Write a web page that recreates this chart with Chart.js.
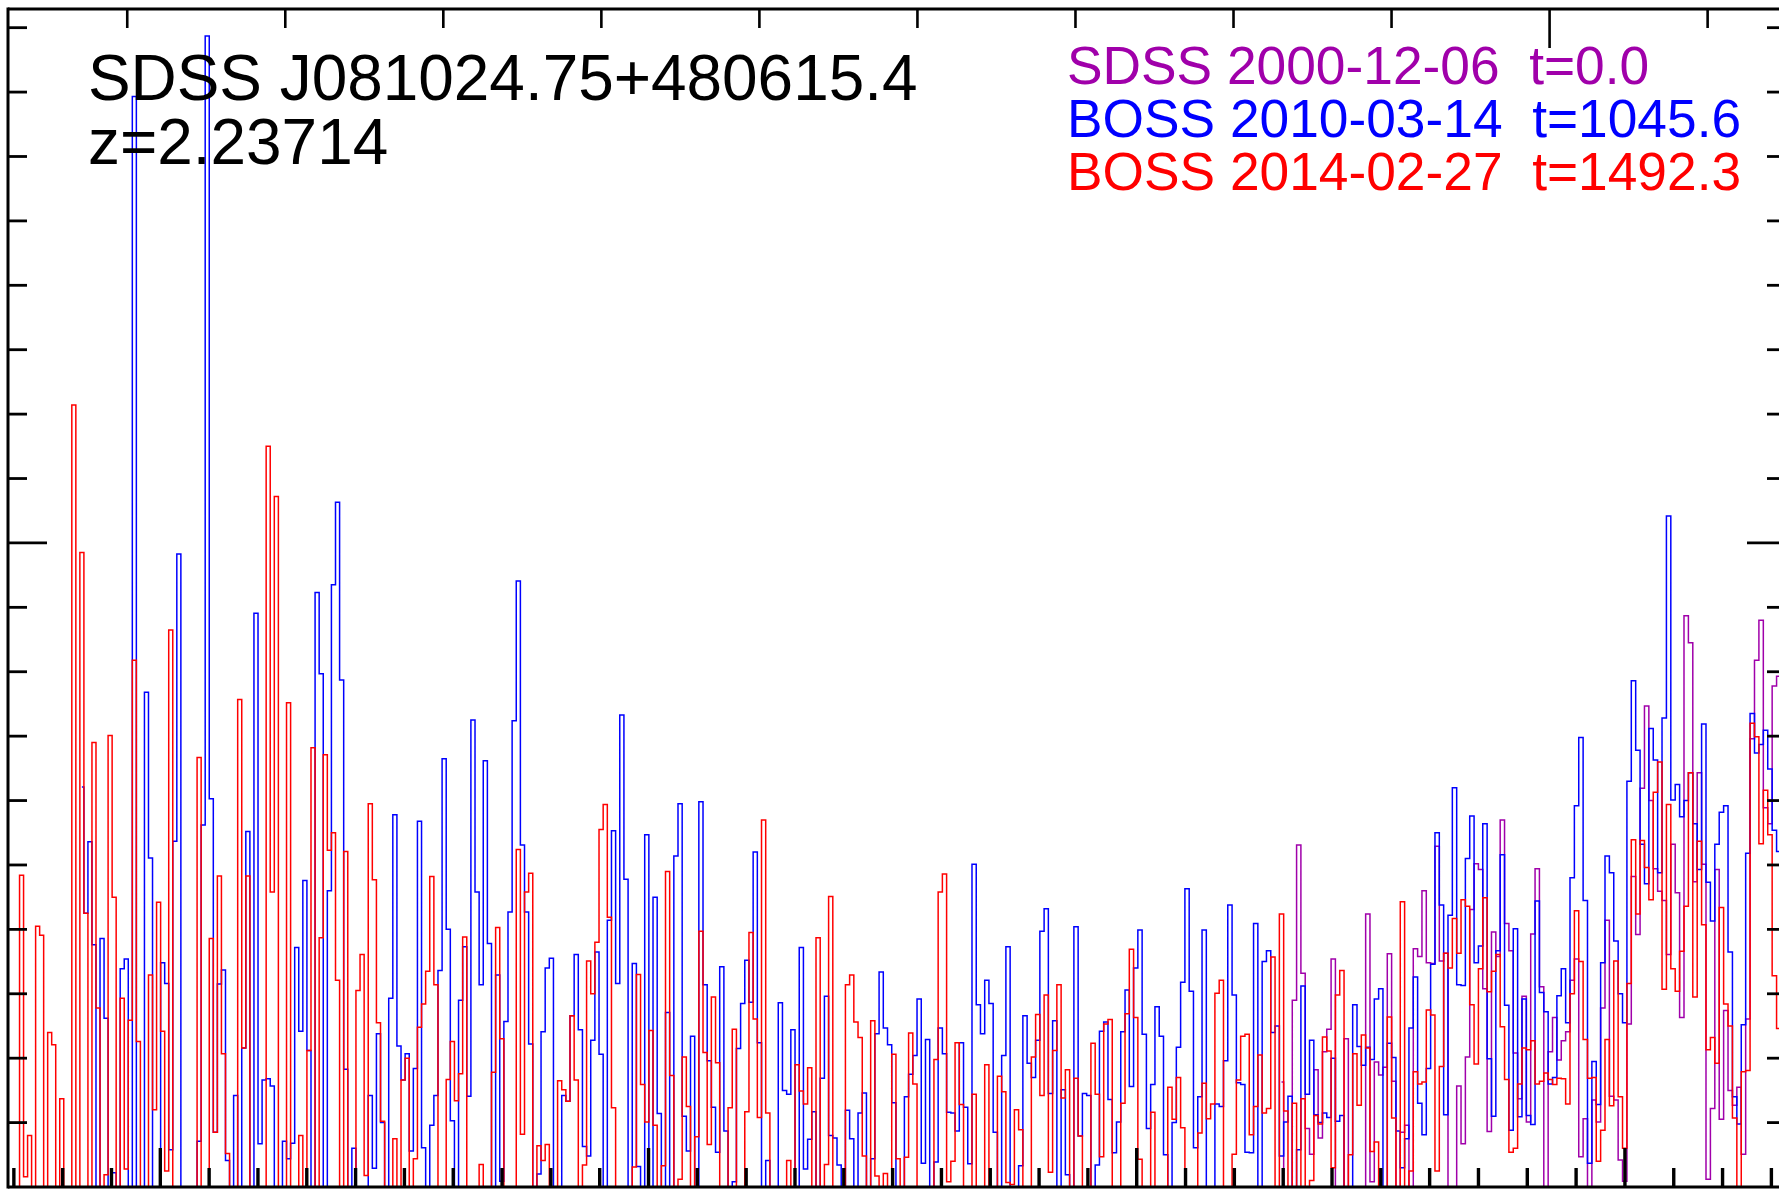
<!DOCTYPE html>
<html>
<head>
<meta charset="utf-8">
<title>SDSS J081024.75+480615.4</title>
<script src="https://cdn.jsdelivr.net/npm/chart.js@4"></script>
<style>
    html, body { margin: 0; padding: 0; background: #fff; }
    canvas { display: block; }
</style>
</head>
<body>
<canvas id="spectrum" width="1779" height="1192"></canvas>
<script>
// Flux below zero runs off the bottom of the frame
const low = -0.05;

// Spectrum pixels are log-spaced: one value per 1e-4 in log10(wavelength)
const logLambdaStart = 3.55276;
const logLambdaStep = 0.0001;
const redshift = 2.23714;

// BOSS 2014-02-27
const fluxRed = [low,
    .484,.016,.080,low,.405,.391,low,.240,.221,low,
    .137,low,low,1.214,low,.985,.425,low,.690,.278,
    low,.019,.701,.450,low,.293,.028,.259,.818,.226,
    low,low,.329,.120,.442,.242,.025,.865,low,low,
    low,low,low,low,.667,low,low,.386,.085,.483,
    .207,.052,low,low,.757,.216,.483,low,low,low,
    low,1.150,.458,1.072,low,low,.752,low,low,.080,
    low,.212,.682,low,.387,.671,.523,.550,.321,low,
    .521,low,low,.305,.361,.018,.595,.477,.255,.102,
    low,low,.075,low,.166,.200,low,.044,.248,.284,
    .335,.482,.314,low,low,.167,.226,.134,.176,.388,
    low,low,low,.035,low,low,.178,.403,.230,low,
    low,low,.524,.082,.458,.487,low,.064,.041,.066,
    low,low,.165,.151,.133,.266,.166,low,.034,.351,
    .300,.380,.555,.594,.419,.123,low,low,low,low,
    .031,.330,.159,.101,.243,.096,low,.033,.490,.173,
    low,.012,.202,.125,low,.078,.397,.209,.066,.295,
    .193,low,low,.123,.245,low,low,.117,.395,.261,
    .108,.570,.115,low,low,low,low,.041,low,.190,
    .149,.129,.185,low,.387,low,.035,.451,low,low,
    low,.314,.329,.256,.232,.048,low,.258,.017,low,
    .021,low,.206,.044,low,.046,.239,.160,low,low,
    low,low,.198,.458,.486,.008,.040,.224,.128,low,
    low,.144,low,low,.190,low,low,.172,.148,.007,
    .004,.120,.089,low,low,.202,.268,.142,.298,.023,
    .212,.314,.138,.182,low,.169,.079,low,low,.223,
    .144,.047,.253,.260,low,low,.130,.269,.369,.263,
    .043,low,low,.116,low,low,low,.155,.105,.170,
    .092,low,low,low,.084,.161,.106,.129,.301,.321,
    low,low,.051,.166,.234,.237,.081,.125,.205,.115,
    .122,.357,low,.424,.118,low,.130,low,.137,low,
    .010,.111,.098,.233,.211,.030,.298,.336,low,.050,
    .207,.127,.236,.216,.055,.070,low,low,.264,.107,
    low,.443,low,.025,.179,.160,.163,.275,.267,.025,
    .187,.363,.340,.417,.363,.446,.436,.283,.191,.339,
    .449,.303,.335,.361,.249,.167,.054,.060,.160,.216,
    .213,.227,.160,.164,.177,.167,.159,.169,.168,.129,
    .300,.429,.350,.229,.169,.170,.040,.088,.229,.126,
    .351,.140,.060,.316,.539,.424,.538,.496,.446,.613,
    .660,.307,.594,.339,.304,.366,.436,.643,.295,.537,
    .407,.213,.232,.192,.434,.284,.250,.107,low,.179,
    .181,.720,.699,.533,.616,.547,.328,.246,.246
];

// BOSS 2010-03-14, begins 16 pixels after the red one
const blueOffset = 16;
const fluxBlue = [
    .621,.425,.536,.376,low,
    .386,.262,low,.022,low,.339,.354,low,1.693,low,
    low,.768,.511,low,low,.348,.316,.058,.537,.983,
    low,low,low,low,.071,.562,1.787,.603,.085,.315,
    .337,.041,low,.142,low,.216,.552,low,.891,.067,
    .166,.168,.157,low,low,.071,.044,.068,.372,.242,
    .476,.212,low,.923,.797,low,.460,.935,1.063,.787,
    .183,low,.060,low,low,low,.142,.029,.238,.100,
    low,.293,.578,.219,.166,.207,.056,.184,.568,.061,
    low,.096,.142,.336,.665,.400,.103,low,.290,.373,
    .141,.725,.458,.314,.662,.378,low,.329,.009,.257,
    .427,.724,.941,.531,.427,.222,low,.020,.241,.340,
    .355,low,low,.142,.133,.266,.361,.244,.063,.048,
    .228,.365,.206,low,.414,.553,.316,.733,.478,low,
    .347,.032,low,.547,low,.450,.114,low,.271,low,
    .514,.595,.110,.056,.234,low,.598,.314,.196,.124,
    .054,.342,.087,low,.008,.215,.285,.352,.287,.520,
    .224,low,.041,low,low,.286,.150,.144,.244,low,
    .372,.028,.074,.117,low,.169,.296,.080,.076,.034,
    low,.119,.075,low,.115,.146,low,.044,.238,.334,
    .247,.221,.131,low,low,.140,.175,.204,.292,.037,
    .229,low,.039,.247,.207,.116,.115,.087,.224,.124,
    .036,.501,.283,.238,.321,.285,.085,low,.204,.373,
    low,low,.033,.266,.192,.170,.228,.397,.432,.145,
    .258,low,.151,.019,low,.404,.079,.145,.142,low,
    .034,.242,.256,.136,.053,.101,.241,.306,.156,.340,
    .399,.237,.091,.159,.280,.234,.050,low,.100,.217,
    .318,.463,.304,.061,.140,.399,low,low,.129,.125,
    .196,.438,.298,.162,.159,.054,.053,.409,low,.350,
    .367,.240,.250,.048,.101,.141,low,.058,.312,.144,
    .228,.112,.100,.115,.108,.200,.102,.111,low,low,
    .283,.218,.189,.217,.198,.292,.308,low,.223,.201,
    .087,.030,.075,.247,.326,.130,.081,.184,.346,.550,
    .438,.112,.422,.620,.314,.313,.510,.576,.348,.374,
    .564,.199,.110,.367,.516,.282,.088,.401,.109,.292,
    .111,.097,.444,.302,.272,.160,.170,.297,.339,.255,
    .480,.592,.698,.445,.037,.195,.128,.348,.514,.488,
    .382,.300,.255,.630,.786,.678,.532,.471,.712,.663,
    .488,.728,1.042,.601,.625,.575,.600,.643,.564,.493,
    .719,.473,.413,.532,.582,.592,.365,.140,.098,.252,
    .518,.735,.674,.687,.709,.649,.554,.521,.521
];

// SDSS 2000-12-06, only reaches the red end of the frame
const purpleOffset = 304;
const fluxPurple = [
    .163,low,low,.290,.531,.332,.091,
    .051,.182,.076,.210,.245,.354,low,low,.230,low,
    low,low,low,.424,.008,.194,.174,.186,.362,.164,
    low,.085,.096,low,.370,.358,.460,.348,.347,.529,
    .351,.363,low,low,.157,.067,.202,.431,.502,.493,
    .308,.086,.396,.358,.570,.409,.367,.208,.137,.296,
    .101,.393,.494,.311,low,.210,.263,.197,.227,.241,
    .321,.354,.047,.106,low,.135,.101,.278,.414,.141,
    .135,.042,.009,.253,.482,.392,.619,.747,.600,.494,
    .459,.445,.361,.532,.457,.263,.887,.845,.474,.643,
    .501,.012,.122,.493,.105,.274,.150,.127,.155,.051,
    .261,.696,.818,.88,.589,.564,.778,.793,.793
];

// Axis ranges and ticks. Bottom axis is observed wavelength, top axis rest wavelength.
const wavelengthMin = 3568.8;
const wavelengthMax = 3931.56;
const fluxMax = 1.829;
const bottomTicks = [3570, 3580, 3590, 3600, 3610, 3620, 3630, 3640, 3650, 3660, 3670, 3680, 3690, 3700,
    3710, 3720, 3730, 3740, 3750, 3760, 3770, 3780, 3790, 3800, 3810, 3820, 3830, 3840, 3850, 3860,
    3870, 3880, 3890, 3900, 3910, 3920, 3930];
const bottomMajorTicks = [3600, 3700, 3800, 3900];
const topTicks = [1110, 1120, 1130, 1140, 1150, 1160, 1170, 1180, 1190, 1200, 1210];
const topMajorTicks = [1200];
const fluxTicks = [0.1, 0.2, 0.3, 0.4, 0.5, 0.6, 0.7, 0.8, 0.9, 1.0, 1.1, 1.2, 1.3, 1.4, 1.5, 1.6, 1.7, 1.8];
const fluxMajorTicks = [1.0];

// Labels
const titleLines = ['SDSS J081024.75+480615.4', 'z=2.23714'];
const epochLabels = ['SDSS 2000-12-06  t=0.0', 'BOSS 2010-03-14  t=1045.6', 'BOSS 2014-02-27  t=1492.3'];
const epochColors = ['rgb(160,0,170)', 'rgb(0,0,255)', 'rgb(255,0,0)'];

const wavelengths = fluxRed.map((_, i) => Math.pow(10, logLambdaStart + i * logLambdaStep));

function toPoints(flux, offset) {
    return flux.map((y, i) => ({ x: wavelengths[i + offset], y: y }));
}

function stepDataset(label, flux, offset, color, order) {
    return {
        label: label,
        data: toPoints(flux, offset),
        borderColor: color,
        borderWidth: 1.5,
        pointRadius: 0,
        stepped: 'middle',
        fill: false,
        order: order
    };
}

// Frame, inward ticks and the text labels
const framePlugin = {
    id: 'frame',
    afterDatasetsDraw(chart) {
        const ctx = chart.ctx;
        const { left, right, top, bottom } = chart.chartArea;
        const { x, y } = chart.scales;

        ctx.save();
        ctx.strokeStyle = '#000';
        ctx.lineCap = 'butt';

        function segment(x1, y1, x2, y2, width) {
            ctx.lineWidth = width;
            ctx.beginPath();
            ctx.moveTo(x1, y1);
            ctx.lineTo(x2, y2);
            ctx.stroke();
        }

        bottomTicks.forEach(t => {
            const px = x.getPixelForValue(t);
            const len = bottomMajorTicks.includes(t) ? 39 : 19;
            segment(px, bottom, px, bottom - len, 3.4);
        });
        topTicks.forEach(t => {
            const px = x.getPixelForValue(t * (1 + redshift));
            const len = topMajorTicks.includes(t) ? 39 : 19;
            segment(px, top, px, top + len, 2.6);
        });
        fluxTicks.forEach(t => {
            const py = y.getPixelForValue(t);
            const major = fluxMajorTicks.includes(t);
            segment(left, py, left + (major ? 39 : 19), py, 2.8);
            segment(right + 7, py, right + 7 - (major ? 39 : 19), py, 2.8);
        });

        segment(left, top - 1.5, left, bottom + 1.5, 3);
        segment(left, top, right, top, 3);
        segment(left, bottom, right, bottom, 3);

        ctx.textAlign = 'left';
        ctx.textBaseline = 'alphabetic';
        ctx.fillStyle = '#000';
        ctx.font = '63.9px "Liberation Sans", Arial, sans-serif';
        ctx.fillText(titleLines[0], 88, 100);
        ctx.fillText(titleLines[1], 88, 164);

        ctx.font = '53.3px "Liberation Sans", Arial, sans-serif';
        epochLabels.forEach((label, i) => {
            ctx.fillStyle = epochColors[i];
            ctx.fillText(label, 1067, 84 + i * 53);
        });
        ctx.restore();
    }
};

new Chart(document.getElementById('spectrum').getContext('2d'), {
    type: 'line',
    data: {
        datasets: [
            stepDataset(epochLabels[0], fluxPurple, purpleOffset, epochColors[0], 3),
            stepDataset(epochLabels[1], fluxBlue, blueOffset, epochColors[1], 2),
            stepDataset(epochLabels[2], fluxRed, 0, epochColors[2], 1)
        ]
    },
    options: {
        responsive: false,
        animation: false,
        events: [],
        layout: { padding: { left: 8, right: 0, top: 9, bottom: 5 } },
        plugins: { legend: { display: false }, tooltip: { enabled: false } },
        scales: {
            x: { type: 'linear', display: false, min: wavelengthMin, max: wavelengthMax },
            y: { type: 'linear', display: false, min: 0, max: fluxMax }
        }
    },
    plugins: [framePlugin]
});
</script>
</body>
</html>
